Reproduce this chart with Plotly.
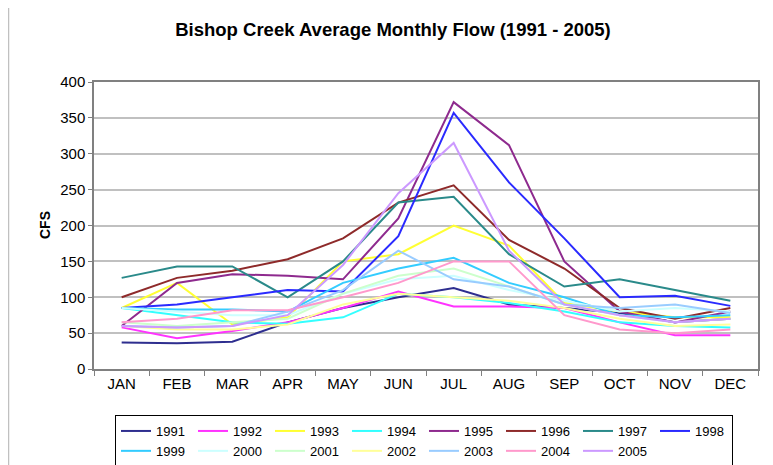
import plotly.graph_objects as go

months = ["JAN", "FEB", "MAR", "APR", "MAY", "JUN", "JUL", "AUG", "SEP", "OCT", "NOV", "DEC"]
years = ["1991", "1992", "1993", "1994", "1995", "1996", "1997", "1998",
         "1999", "2000", "2001", "2002", "2003", "2004", "2005"]

flow_1991 = [37, 36, 38, 65, 85, 100, 113, 90, 85, 78, 65, 70]
flow_1992 = [58, 43, 53, 65, 85, 108, 87, 87, 85, 65, 47, 47]
flow_1993 = [85, 120, 62, 72, 150, 160, 200, 172, 92, 80, 72, 72]
flow_1994 = [85, 75, 65, 63, 72, 105, 100, 92, 80, 65, 60, 58]
flow_1995 = [60, 120, 132, 130, 125, 210, 372, 312, 150, 80, 65, 80]
flow_1996 = [100, 127, 137, 153, 182, 232, 256, 180, 140, 85, 70, 85]
flow_1997 = [127, 143, 143, 100, 150, 232, 240, 160, 115, 125, 110, 95]
flow_1998 = [85, 90, 100, 110, 108, 185, 357, 260, 182, 100, 102, 88]
flow_1999 = [85, 83, 83, 80, 120, 140, 155, 120, 100, 75, 72, 75]
flow_2000 = [85, 80, 75, 75, 105, 125, 130, 110, 95, 80, 85, 80]
flow_2001 = [65, 60, 65, 70, 105, 130, 140, 115, 90, 75, 65, 70]
flow_2002 = [60, 55, 55, 62, 90, 105, 100, 95, 85, 70, 60, 62]
flow_2003 = [60, 58, 60, 80, 110, 165, 125, 115, 90, 85, 90, 78]
flow_2004 = [65, 70, 82, 82, 100, 120, 150, 150, 75, 55, 50, 55]
flow_2005 = [60, 58, 60, 75, 145, 245, 315, 165, 90, 75, 65, 70]

series = [flow_1991, flow_1992, flow_1993, flow_1994, flow_1995, flow_1996, flow_1997, flow_1998,
          flow_1999, flow_2000, flow_2001, flow_2002, flow_2003, flow_2004, flow_2005]
colors = ["#2e2e8f", "#ff33ff", "#ffff33", "#33ffff", "#8e2a8e", "#8e2a2a", "#2a8a8a", "#2a2aff",
          "#33ccff", "#ccffff", "#ccffcc", "#ffff99", "#99ccff", "#ff99cc", "#cc99ff"]

fig = go.Figure()
for yr, vals, col in zip(years, series, colors):
    fig.add_trace(go.Scatter(x=months, y=vals, name=yr, mode="lines",
                             line=dict(color=col, width=2)))

# the page body has an 8px margin, so the figure is drawn 8px right/down
OFF = 8
W, H = 773 - OFF, 465 - OFF
# plot area in screen pixels: x 94..758, y 82..369
L, T = 94 - OFF, 82 - OFF
R = W - (758 - OFF)
B = H - (369 - OFF)
pw, ph = W - L - R, H - T - B

def px(x):
    return (x - OFF - L) / pw

def py(y):
    return (H - B - (y - OFF)) / ph

fig.update_layout(
    width=W, height=H,
    margin=dict(l=L, r=R, t=T, b=B, autoexpand=False),
    paper_bgcolor="white", plot_bgcolor="white",
    font=dict(family="Liberation Sans, Arial, sans-serif", size=15, color="#000000"),
    title=dict(text="<b>Bishop Creek Average Monthly Flow (1991 - 2005)</b>",
               x=px(393), xanchor="center", xref="paper",
               y=1 - (30 - OFF) / H, yanchor="middle", font=dict(size=18.5)),
    showlegend=True,
    legend=dict(orientation="h", x=px(115), xanchor="left", y=py(415), yanchor="top",
                bordercolor="#000000", borderwidth=1, bgcolor="white",
                font=dict(size=13), entrywidth=32, entrywidthmode="pixels",
                traceorder="normal", itemwidth=30, tracegroupgap=0),
    xaxis=dict(showgrid=False, showline=True, linecolor="#808080", linewidth=1.5, mirror=True,
               ticks="outside", tickson="boundaries", ticklen=5, tickcolor="#808080",
               tickfont=dict(size=15), range=[-0.5, 11.5]),
    yaxis=dict(range=[0, 400], dtick=50, showgrid=True, gridcolor="#c0c0c0", gridwidth=1.5,
               showline=True, linecolor="#808080", linewidth=1.5, mirror=True,
               ticks="outside", ticklen=4, tickcolor="#808080", tickfont=dict(size=15)),
    annotations=[dict(text="<b>CFS</b>", textangle=-90, xref="paper", yref="paper",
                      x=px(35), y=py(225), showarrow=False, font=dict(size=14))],
    shapes=[dict(type="rect", xref="paper", yref="paper", x0=px(8.5), x1=px(771),
                 y0=py(480), y1=py(6.5), line=dict(color="#c0c0c0", width=1.5), layer="below")],
)

fig.write_html("out.html")
